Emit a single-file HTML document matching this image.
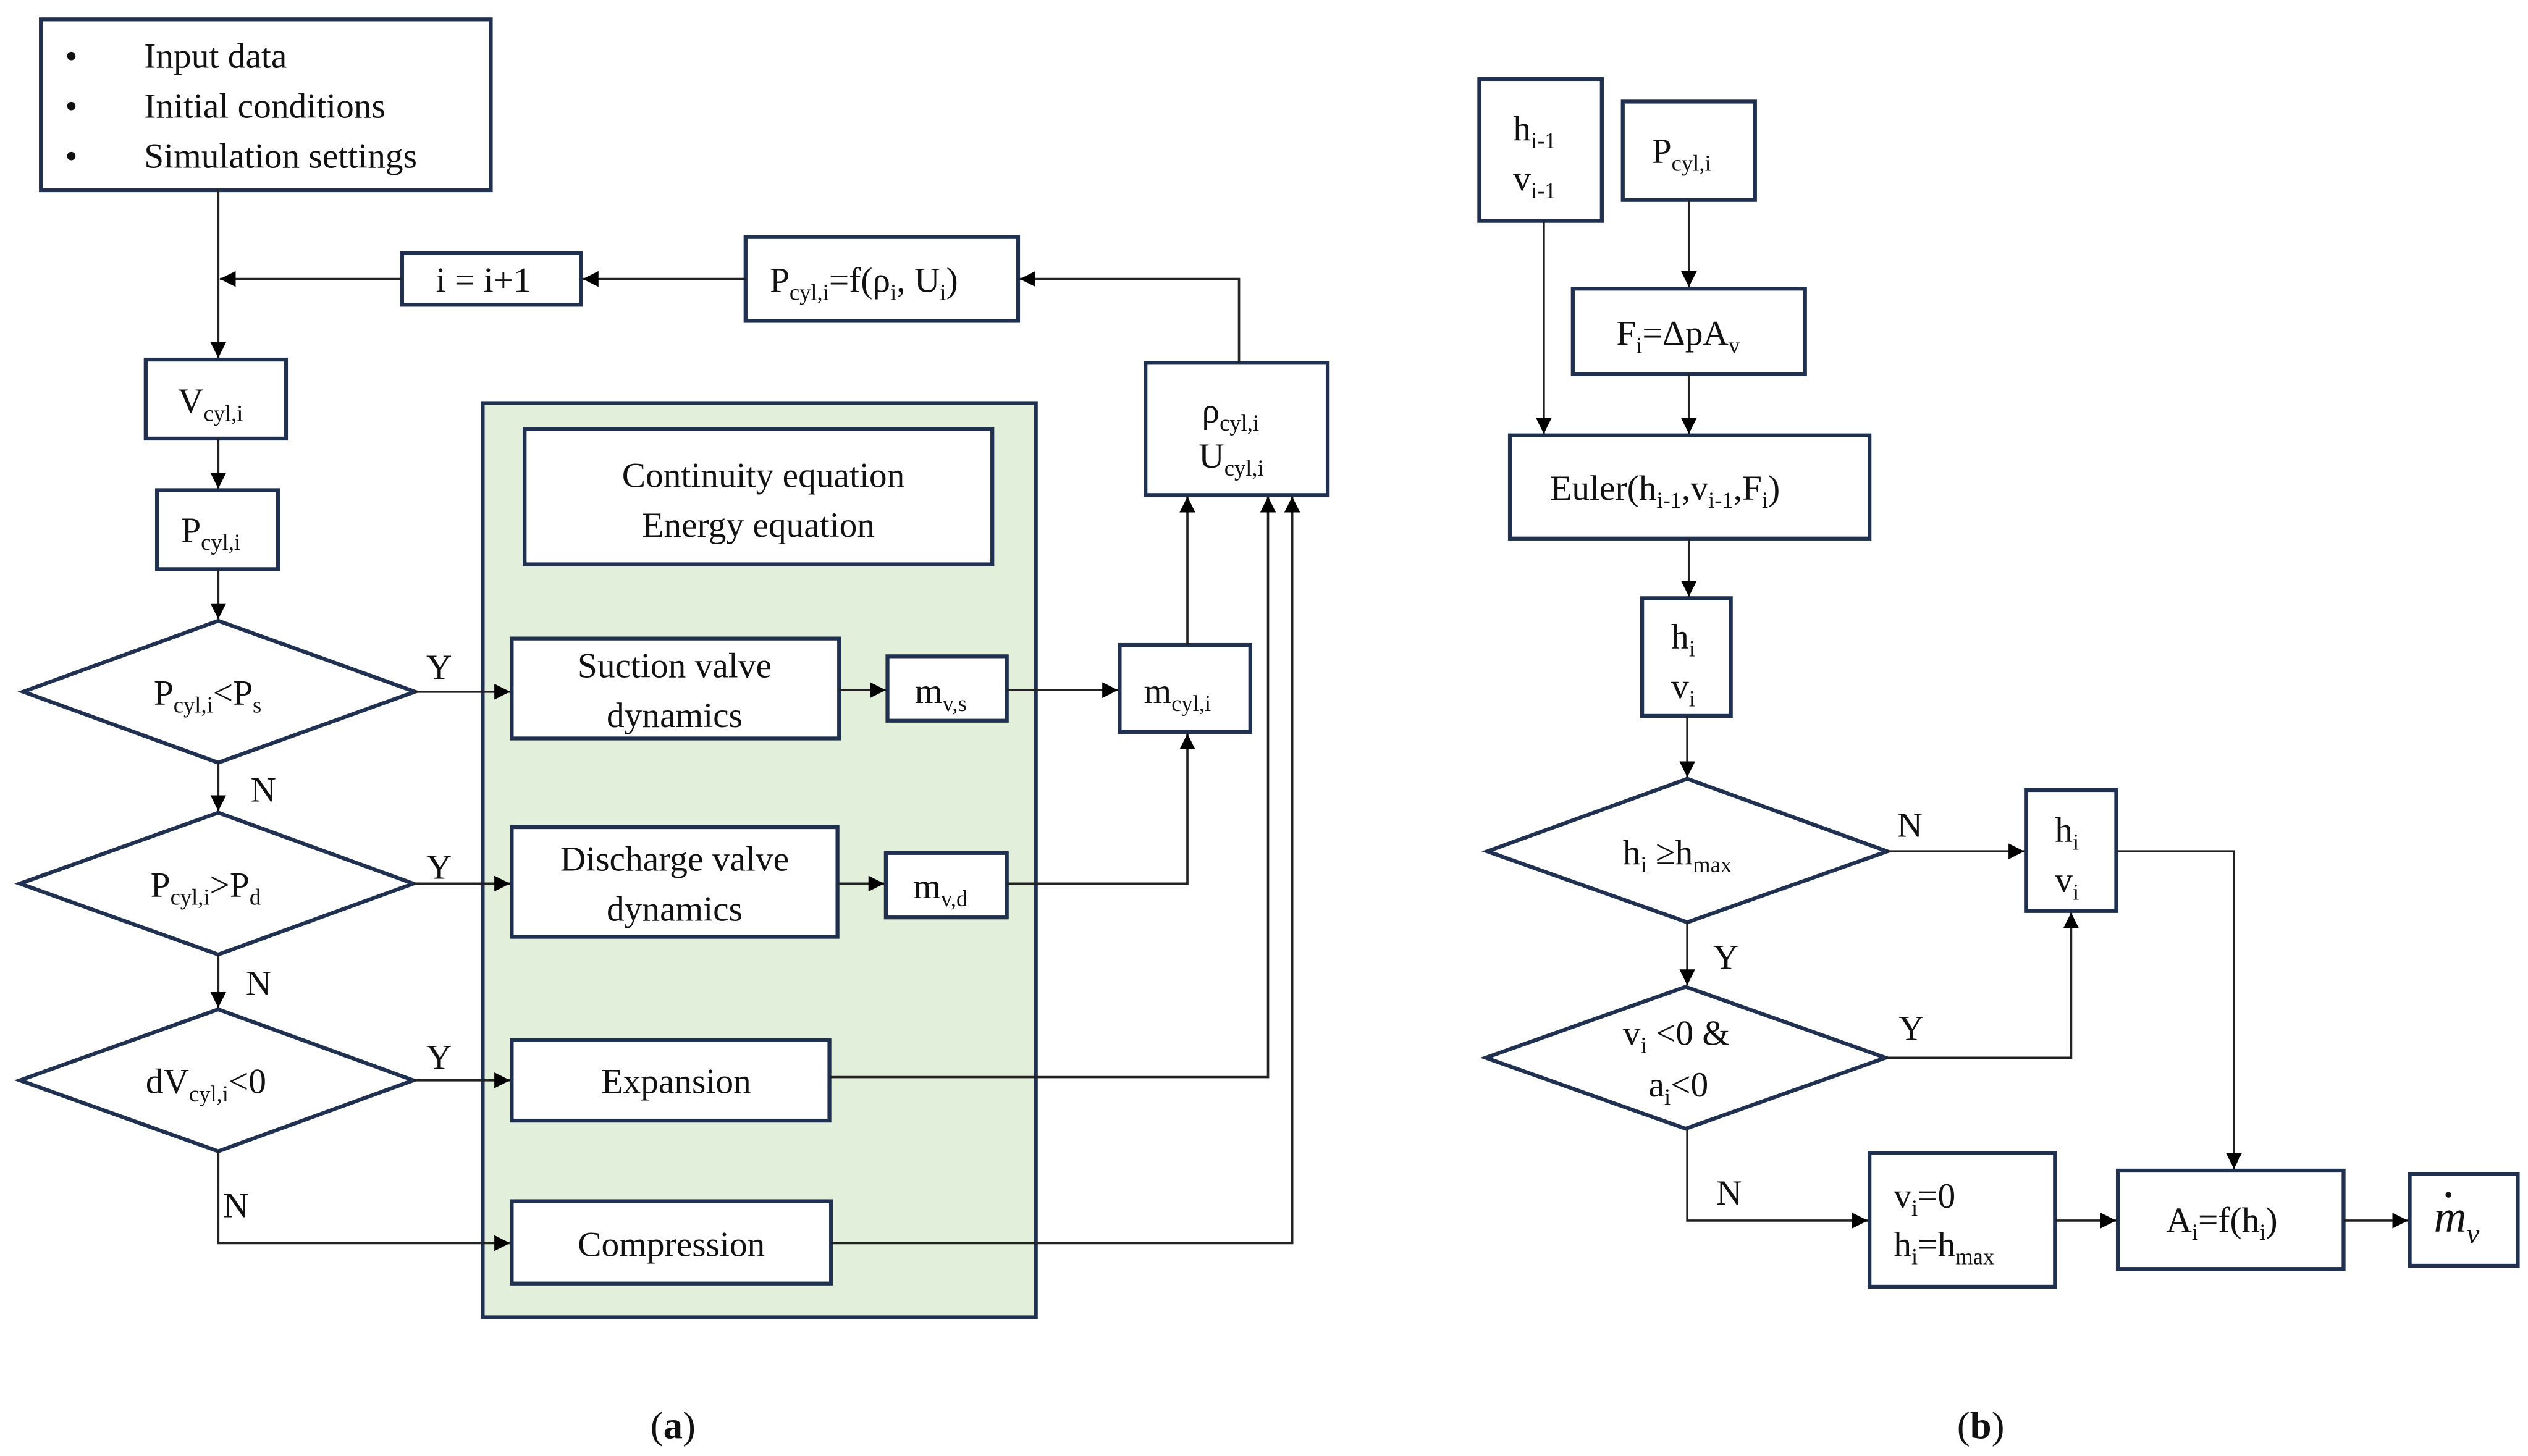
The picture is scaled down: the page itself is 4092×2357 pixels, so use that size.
<!DOCTYPE html>
<html><head><meta charset="utf-8"><style>html,body{margin:0;padding:0;background:#fff}svg{display:block}svg text{font-family:"Liberation Serif",serif}</style></head>
<body>
<svg width="4092" height="2357" viewBox="0 0 1567 903" xmlns="http://www.w3.org/2000/svg" font-family="'Liberation Serif', serif" font-size="22" fill="#111">
<defs>
<marker id="a" viewBox="0 0 10 10" refX="10" refY="5" markerWidth="7" markerHeight="7" orient="auto"><path d="M0,0L10,5L0,10z" fill="#000"/></marker>
</defs>
<g fill="none" stroke="#1f3050" stroke-width="2.4">
<rect x="25" y="12" width="279" height="106"/>
<rect x="249" y="157" width="111" height="32"/>
<rect x="462" y="147" width="169" height="52"/>
<rect x="90" y="223" width="87" height="49"/>
<rect x="97" y="304" width="75" height="49"/>
<rect x="299" y="250" width="343" height="567" fill="#e2efda"/>
<rect x="325" y="266" width="290" height="84" fill="#fff"/>
<rect x="317" y="396" width="203" height="62" fill="#fff"/>
<rect x="550" y="407" width="74" height="40" fill="#fff"/>
<rect x="317" y="513" width="202" height="68" fill="#fff"/>
<rect x="549" y="529" width="75" height="40" fill="#fff"/>
<rect x="317" y="645" width="197" height="50" fill="#fff"/>
<rect x="317" y="745" width="198" height="51" fill="#fff"/>
<rect x="694" y="400" width="81" height="54"/>
<rect x="710" y="225" width="113" height="82"/>
<path d="M14,429L135,385L257,429L135,473Z"/>
<path d="M12,548L135,504L256,548L135,592Z"/>
<path d="M12,670L135,626L256,670L135,714Z"/>
<rect x="917" y="49" width="76" height="88"/>
<rect x="1006" y="63" width="82" height="61"/>
<rect x="975" y="179" width="144" height="53"/>
<rect x="936" y="270" width="223" height="64"/>
<rect x="1018" y="371" width="55" height="73"/>
<path d="M922,528L1046,483L1170,528L1046,572Z"/>
<path d="M921,656L1045,612L1169,656L1045,700Z"/>
<rect x="1256" y="490" width="56" height="75"/>
<rect x="1159" y="715" width="115" height="83"/>
<rect x="1313" y="726" width="140" height="61"/>
<rect x="1494" y="728" width="67" height="57"/>
</g>
<g fill="none" stroke="#222" stroke-width="1.4" marker-end="url(#a)">
<path d="M135,118V222"/>
<path d="M249,173H136"/>
<path d="M462,173H361"/>
<path d="M768,225V173H632"/>
<path d="M135,272V303"/>
<path d="M135,353V384"/>
<path d="M135,473V503"/>
<path d="M135,592V625"/>
<path d="M257,429H316"/>
<path d="M256,548H316"/>
<path d="M256,670H316"/>
<path d="M135,714V771H316"/>
<path d="M520,428H549"/>
<path d="M519,548H548"/>
<path d="M624,428H693"/>
<path d="M624,548H736V455"/>
<path d="M736,400V308"/>
<path d="M514,668H786V308"/>
<path d="M515,771H801V308"/>
<path d="M957,137V269"/>
<path d="M1047,124V178"/>
<path d="M1047,232V269"/>
<path d="M1047,334V370"/>
<path d="M1046,444V482"/>
<path d="M1046,572V611"/>
<path d="M1170,528H1255"/>
<path d="M1169,656H1284V566"/>
<path d="M1312,528H1385V725"/>
<path d="M1046,700V757H1158"/>
<path d="M1274,757H1312"/>
<path d="M1453,757H1493"/>
</g>
<g>
<text x="40" y="42">•</text><text x="89" y="42">Input data</text>
<text x="40" y="73">•</text><text x="89" y="73">Initial conditions</text>
<text x="40" y="104">•</text><text x="89" y="104">Simulation settings</text>
<text x="270" y="181">i = i+1</text>
<text x="477" y="181">P<tspan font-size="14" dy="5">cyl,i</tspan><tspan dy="-5">=f(ρ</tspan><tspan font-size="14" dy="5">i</tspan><tspan dy="-5">, U</tspan><tspan font-size="14" dy="5">i</tspan><tspan dy="-5">)</tspan></text>
<text x="110" y="256">V<tspan font-size="14" dy="5">cyl,i</tspan></text>
<text x="112" y="336">P<tspan font-size="14" dy="5">cyl,i</tspan></text>
<text x="95" y="437">P<tspan font-size="14" dy="5">cyl,i</tspan><tspan dy="-5">&lt;P</tspan><tspan font-size="14" dy="5">s</tspan></text>
<text x="93" y="556">P<tspan font-size="14" dy="5">cyl,i</tspan><tspan dy="-5">&gt;P</tspan><tspan font-size="14" dy="5">d</tspan></text>
<text x="90" y="678">dV<tspan font-size="14" dy="5">cyl,i</tspan><tspan dy="-5">&lt;0</tspan></text>
<text x="264" y="421">Y</text><text x="155" y="497">N</text>
<text x="264" y="545">Y</text><text x="152" y="617">N</text>
<text x="264" y="663">Y</text><text x="138" y="755">N</text>
<text x="473" y="302" text-anchor="middle">Continuity equation</text>
<text x="470" y="333" text-anchor="middle">Energy equation</text>
<text x="418" y="420" text-anchor="middle">Suction valve</text>
<text x="418" y="451" text-anchor="middle">dynamics</text>
<text x="418" y="540" text-anchor="middle">Discharge valve</text>
<text x="418" y="571" text-anchor="middle">dynamics</text>
<text x="419" y="678" text-anchor="middle">Expansion</text>
<text x="416" y="779" text-anchor="middle">Compression</text>
<text x="567" y="436">m<tspan font-size="14" dy="5">v,s</tspan></text>
<text x="566" y="557">m<tspan font-size="14" dy="5">v,d</tspan></text>
<text x="709" y="436">m<tspan font-size="14" dy="5">cyl,i</tspan></text>
<text x="745" y="262">ρ<tspan font-size="14" dy="5">cyl,i</tspan></text>
<text x="743" y="290">U<tspan font-size="14" dy="5">cyl,i</tspan></text>
<text x="938" y="87">h<tspan font-size="14" dy="5">i-1</tspan></text>
<text x="938" y="118">v<tspan font-size="14" dy="5">i-1</tspan></text>
<text x="1024" y="101">P<tspan font-size="14" dy="5">cyl,i</tspan></text>
<text x="1002" y="214">F<tspan font-size="14" dy="5">i</tspan><tspan dy="-5">=ΔpA</tspan><tspan font-size="14" dy="5">v</tspan></text>
<text x="961" y="310">Euler(h<tspan font-size="14" dy="5">i-1</tspan><tspan dy="-5">,v</tspan><tspan font-size="14" dy="5">i-1</tspan><tspan dy="-5">,F</tspan><tspan font-size="14" dy="5">i</tspan><tspan dy="-5">)</tspan></text>
<text x="1036" y="402">h<tspan font-size="14" dy="5">i</tspan></text>
<text x="1036" y="433">v<tspan font-size="14" dy="5">i</tspan></text>
<text x="1006" y="536">h<tspan font-size="14" dy="5">i</tspan><tspan dy="-5"> ≥h</tspan><tspan font-size="14" dy="5">max</tspan></text>
<text x="1006" y="648">v<tspan font-size="14" dy="5">i</tspan><tspan dy="-5"> &lt;0 &amp;</tspan></text>
<text x="1022" y="680">a<tspan font-size="14" dy="5">i</tspan><tspan dy="-5">&lt;0</tspan></text>
<text x="1176" y="519">N</text><text x="1062" y="601">Y</text>
<text x="1177" y="645">Y</text><text x="1064" y="747">N</text>
<text x="1274" y="522">h<tspan font-size="14" dy="5">i</tspan></text>
<text x="1274" y="553">v<tspan font-size="14" dy="5">i</tspan></text>
<text x="1174" y="749">v<tspan font-size="14" dy="5">i</tspan><tspan dy="-5">=0</tspan></text>
<text x="1174" y="779">h<tspan font-size="14" dy="5">i</tspan><tspan dy="-5">=h</tspan><tspan font-size="14" dy="5">max</tspan></text>
<text x="1343" y="764">A<tspan font-size="14" dy="5">i</tspan><tspan dy="-5">=f(h</tspan><tspan font-size="14" dy="5">i</tspan><tspan dy="-5">)</tspan></text>
<text x="1509" y="764" font-style="italic" font-size="28">m<tspan font-size="18" dy="7">v</tspan></text>
<circle cx="1518" cy="741" r="1.8" fill="#111"/>
<text x="417" y="892" text-anchor="middle" font-size="24">(<tspan font-weight="bold">a</tspan>)</text>
<text x="1228" y="892" text-anchor="middle" font-size="24">(<tspan font-weight="bold">b</tspan>)</text>
</g>
</svg>
</body></html>
